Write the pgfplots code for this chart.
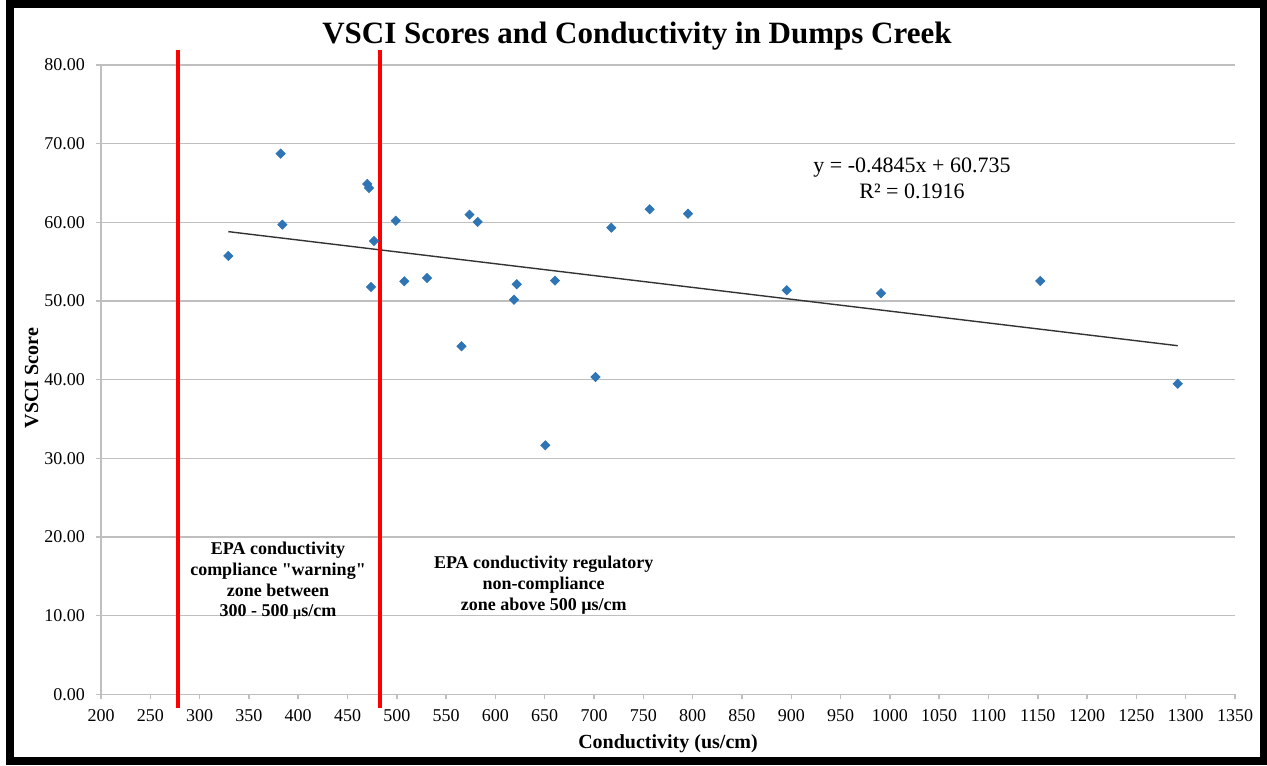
\documentclass[border=0pt]{standalone}
\usepackage{pgfplots}
\pgfplotsset{compat=1.18}
\usepackage{fontspec}
\setmainfont{Liberation Serif}
\definecolor{ptblue}{RGB}{47,117,181}
\definecolor{gridgray}{RGB}{191,191,191}
\begin{document}
\begin{tikzpicture}[x=1pt,y=1pt]
\useasboundingbox (0,0) rectangle (633.5,382.5);
\fill[white] (0,0) rectangle (633.5,382.5);
\begin{axis}[
  at={(50.5pt,35.3pt)}, anchor=south west,
  scale only axis, width=567pt, height=314.7pt,
  xmin=200, xmax=1350, ymin=0, ymax=80,
  axis x line*=bottom, axis y line*=left,
  axis line style={gridgray, line width=0.75pt},
  xtick={200,250,...,1350}, ytick={0,10,...,80},
  tick align=outside, major tick length=2.5pt,
  tick style={gridgray, line width=0.75pt},
  ymajorgrids, grid style={gridgray, line width=0.75pt},
  ticklabel style={font=\fontsize{9}{10}\selectfont},
  /pgf/number format/assume math mode=true,
  x tick label style={yshift=-1.5pt, /pgf/number format/1000 sep={}},
  y tick label style={xshift=-2pt, /pgf/number format/.cd, fixed, fixed zerofill, precision=2},
  clip=false,
]
\addplot[black!80, line width=0.7pt] coordinates {(329.1,58.82) (1291.9,44.32)};
\addplot[red, line width=2pt] coordinates {(278.4,-1.7) (278.4,81.9)};
\addplot[red, line width=2pt] coordinates {(482.9,-1.7) (482.9,81.9)};
\addplot[only marks, mark=square*, mark size=1.6pt, mark options={rotate=45, fill=ptblue, draw=ptblue}] table {
x y
329.1 55.73
382.2 68.73
383.9 59.71
470.0 64.88
471.8 64.37
476.8 57.63
473.8 51.79
498.9 60.21
507.6 52.51
530.6 52.93
565.6 44.25
573.7 60.98
582.0 60.05
618.8 50.17
621.6 52.13
650.6 31.66
660.4 52.59
701.5 40.35
717.5 59.32
756.4 61.66
795.3 61.10
895.4 51.37
991.0 50.99
1152.5 52.55
1291.9 39.49
};
\end{axis}
\node[anchor=base, font=\fontsize{15.5}{18}\selectfont\bfseries] at (318.5,360.5) {VSCI Scores and Conductivity in Dumps Creek};
\node[anchor=base, font=\fontsize{10}{12}\selectfont\bfseries] at (334,8.5) {Conductivity (us/cm)};
\node[anchor=base, rotate=90, font=\fontsize{10}{12}\selectfont\bfseries] at (19,193.5) {VSCI Score};
\node[align=center, font=\fontsize{9}{10.4}\selectfont\bfseries] at (139,92) {EPA conductivity\\compliance \textquotedbl warning\textquotedbl\\zone between\\300 - 500 {\fontsize{7}{8}\selectfont µ}s/cm};
\node[align=center, font=\fontsize{9}{10.4}\selectfont\bfseries] at (271.85,90) {EPA conductivity regulatory\\non-compliance\\zone above 500 µs/cm};
\node[align=center, font=\fontsize{11}{13}\selectfont] at (456,293.25) {y = -0.4845x + 60.735\\R² = 0.1916};
\draw[line width=4pt] (5,2) rectangle (632,380.5);
\end{tikzpicture}
\end{document}
